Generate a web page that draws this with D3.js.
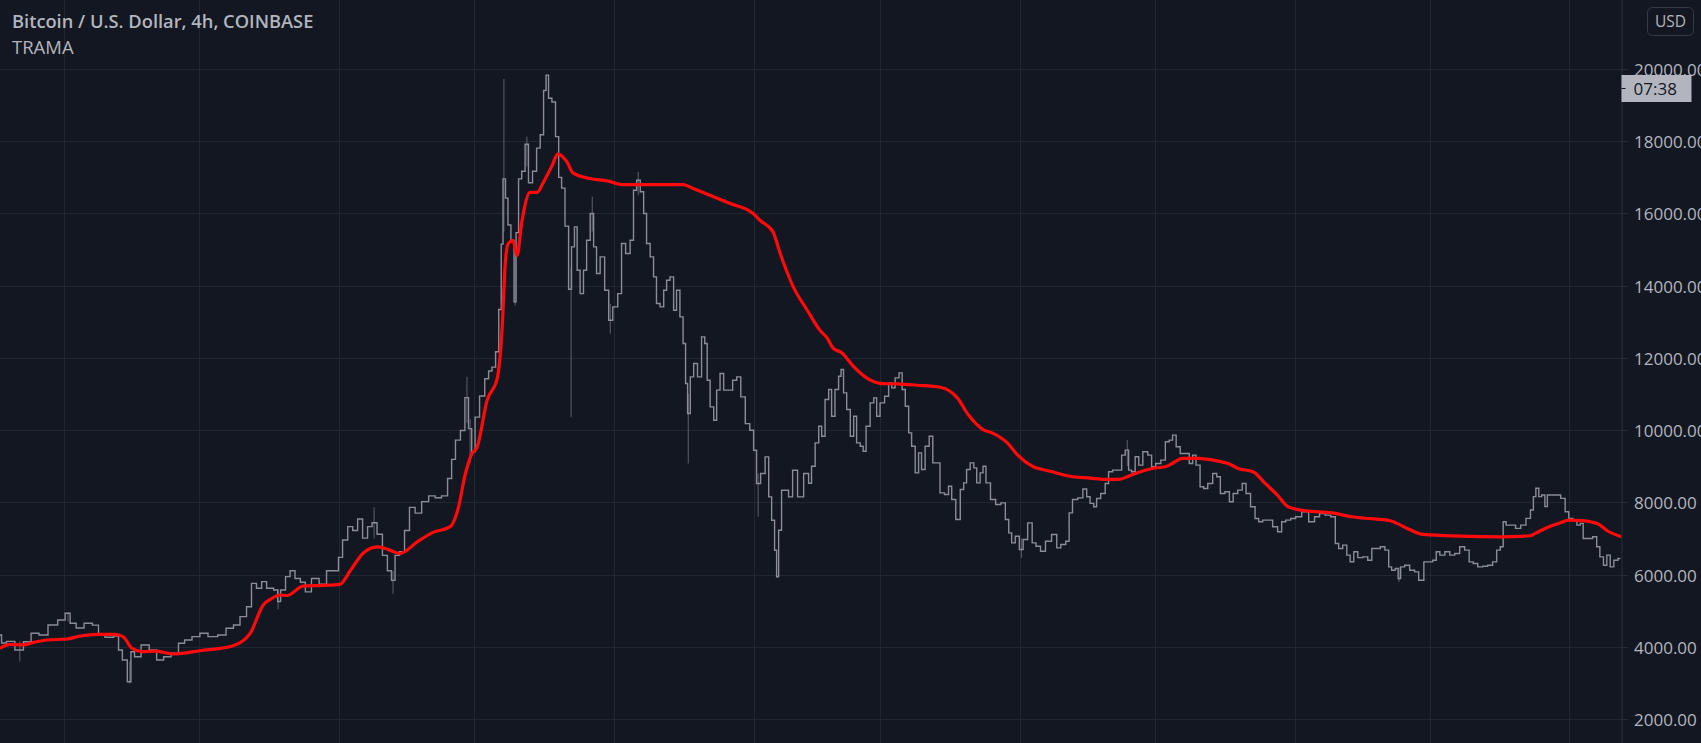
<!DOCTYPE html>
<html lang="en">
<head>
<meta charset="UTF-8">
<title>BTCUSD 4h TRAMA</title>
<script src="https://cdn.jsdelivr.net/npm/d3@7"></script>
<style>
  html, body { margin: 0; padding: 0; background: #131722; }
  svg { display: block; }
  text { font-family: "Open Sans", "Noto Sans", sans-serif; }
</style>
</head>
<body>
<script>
// [days since 2017-08-17 19:00 UTC, close]
const price = [
  [0,4327],[0.7,4105],[2.2,4150],[4.4,3910],[6.0,4140],[7.8,4373],[9.5,4327],[11.8,4603],[13.8,4742],[15.1,4927],
  [16.0,4650],[17.8,4520],[19.5,4650],[21.5,4600],[22.2,4330],[24.4,4263],[26.0,4300],[26.6,3910],[27.7,3635],[28.8,3033],
  [29.3,3864],[30.4,3725],[32.2,4050],[34.0,3910],[35.5,3635],[37.1,3725],[38.8,3820],[40.4,4096],[41.5,4188],[43.7,4280],
  [45.0,4373],[47.3,4280],[49.3,4327],[51.0,4512],[52.6,4603],[53.9,4834],[55.5,5110],[56.1,5757],[57.7,5619],[58.4,5803],
  [59.9,5620],[61.5,5573],[61.7,5253],[62.8,5573],[63.9,5944],[64.8,6104],[66.1,5890],[67.2,5785],[68.3,5520],[69.9,5890],
  [71.7,5730],[73.2,6104],[74.8,6104],[75.4,6476],[76.6,6955],[77.7,7327],[78.8,7220],[79.9,7540],[81.0,7010],[82.1,7327],
  [83.0,7434],[84.3,7115],[85.4,6530],[86.5,6104],[87.2,5840],[88.1,6530],[89.2,6636],[90.3,7220],[91.4,7860],[92.8,7700],
  [94.3,8020],[95.9,8180],[97.2,8126],[98.7,8180],[99.9,8658],[100.5,9190],[101.6,9722],[102.7,9990],[103.6,10900],[104.3,10040],
  [105.0,9400],[105.8,10360],[107.0,10945],[108.1,11424],[108.7,11637],[109.6,11743],[110.3,12170],[111.0,13340],[111.4,15150],[111.8,16957],
  [112.5,16425],[112.9,15680],[113.8,15255],[114.3,13550],[114.7,15470],[115.4,16957],[116.1,17170],[116.9,17915],[117.6,16850],[118.7,17170],
  [119.4,17810],[120.3,18180],[120.9,19404],[121.4,19830],[122.0,19190],[122.9,19085],[123.6,18127],[124.3,17000],[124.9,16700],[125.8,15650],
  [126.5,13900],[127.1,15074],[127.8,15628],[128.3,14428],[129.1,13780],[129.8,14428],[130.5,15258],[131.4,15997],[132.0,15074],[132.7,14336],
  [133.6,14797],[134.7,13874],[135.4,13043],[136.5,13413],[137.6,13780],[138.2,15166],[139.4,14890],[140.2,15258],[140.9,16643],[141.6,16920],
  [142.5,16600],[143.1,15997],[143.8,15166],[144.7,14797],[145.3,14243],[146.0,13505],[146.9,13413],[147.6,13874],[148.2,14150],[149.1,14243],
  [149.8,13320],[150.4,13874],[151.3,13136],[151.8,12397],[152.4,11290],[152.7,10459],[153.6,11473],[154.2,11843],[155.3,11473],[156.0,12582],
  [156.7,12397],[157.1,11382],[158.0,10644],[158.7,10275],[159.3,11106],[160.2,11566],[160.9,11106],[162.0,11106],[163.1,11382],[163.8,11473],
  [164.9,10920],[165.8,10180],[166.9,9997],[167.5,9443],[168.2,8520],[169.3,8797],[170.2,9260],[170.9,8150],[171.5,7505],[172.2,6675],
  [172.4,5940],[173.1,7228],[173.7,8336],[174.6,8336],[175.3,8150],[176.4,8890],[177.5,8150],[179.1,8797],[179.7,8530],[180.4,9000],
  [181.3,9646],[182.0,10108],[182.6,9831],[183.5,10846],[184.2,11123],[184.8,10385],[185.7,11123],[186.4,11492],[186.8,11677],[187.5,11031],
  [188.2,10570],[189.1,9831],[189.7,10385],[190.4,9646],[191.3,9554],[191.7,9415],[192.6,10108],[193.5,10754],[194.2,10892],[194.8,10385],
  [195.7,10754],[196.8,10938],[197.5,11308],[198.2,11169],[199.0,11446],[199.9,11585],[200.4,11123],[201.3,10662],[201.9,9923],[202.6,9554],
  [203.5,8816],[204.1,9369],[204.8,8908],[205.7,9554],[206.6,9831],[207.3,9092],[208.1,9092],[209.0,8262],[210.1,8216],[210.8,8446],
  [211.5,8077],[212.6,7523],[213.5,8354],[214.1,8539],[214.8,8908],[215.7,9092],[216.4,8954],[217.0,8539],[217.9,8816],[218.3,9000],
  [219.2,8539],[220.3,8077],[221.5,7939],[222.6,7985],[223.5,7523],[224.1,7154],[224.8,6877],[225.7,7062],[226.6,6693],[227.4,6970],
  [228.6,7431],[229.4,6877],[230.3,6785],[231.4,6646],[232.5,6923],[234.1,7108],[234.8,6739],[235.9,6831],[237.0,6923],[237.4,7708],
  [238.5,8077],[239.7,8123],[240.8,8370],[241.4,8154],[242.3,7970],[243.0,7877],[243.6,8108],[244.8,8246],[245.6,8523],[246.3,8846],
  [247.4,8892],[248.5,8892],[249.2,9308],[250.1,9446],[250.7,8892],[251.4,8846],[252.3,9262],[253.0,9031],[254.1,9400],[255.2,9308],
  [255.8,8985],[257.0,9077],[258.1,9169],[259.0,9677],[259.8,9723],[260.5,9862],[261.4,9538],[262.3,9354],[263.4,9354],[264.3,9077],
  [264.9,9308],[265.8,9031],[266.7,8431],[267.4,8385],[268.5,8523],[269.6,8800],[270.3,8708],[271.2,8246],[272.3,8292],[273.2,8015],
  [274.0,8246],[275.2,8338],[276.0,8523],[276.9,8246],[278.0,7877],[278.9,7554],[279.6,7462],[280.7,7508],[281.8,7508],[282.9,7323],
  [284.0,7185],[284.7,7462],[285.8,7508],[286.9,7554],[288.0,7600],[289.6,7738],[291.1,7462],[292.2,7600],[293.3,7692],[294.7,7646],
  [295.8,7600],[296.7,6862],[297.3,6723],[298.5,6815],[299.1,6538],[300.0,6354],[300.7,6631],[301.8,6470],[302.9,6491],[304.0,6398],
  [304.7,6722],[305.8,6722],[306.7,6768],[307.8,6676],[308.4,6213],[309.1,6120],[310.0,6166],[310.4,5889],[311.1,6213],[312.2,6259],
  [313.3,6120],[314.4,6074],[315.1,5843],[315.8,5843],[316.0,6352],[317.3,6352],[318.4,6398],[318.9,6630],[320.0,6537],[321.1,6630],
  [322.2,6537],[323.3,6583],[324.4,6768],[325.5,6676],[326.4,6352],[327.3,6305],[328.4,6213],[329.5,6231],[330.6,6259],[331.7,6352],
  [332.4,6676],[333.3,6768],[333.7,7463],[334.6,7370],[335.7,7370],[336.8,7278],[338.0,7370],[339.1,7555],[340.0,7787],[340.4,8157],
  [341.1,8389],[341.7,8157],[342.4,8204],[343.1,7880],[343.5,8204],[344.6,8204],[345.7,8204],[346.8,8111],[347.7,7741],[348.4,7555],
  [349.5,7509],[350.2,7370],[351.0,7416],[351.5,7000],[352.8,7000],[353.9,7046],[354.6,6768],[355.3,6491],[356.2,6259],[356.8,6537],
  [357.7,6213],[358.4,6398],[359.5,6444]
];

// [day, low, high] for the long wicks
const wicks = [
  [4.4,3590,4150],[15.1,4700,4960],[28.8,2980,3600],[61.7,5040,5600],[83.0,7000,7860],[87.2,5466,6100],
  [103.6,10200,11480],[104.3,9083,10300],[111.8,15500,19723],[114.3,13450,15000],[116.9,17300,18130],
  [126.7,10366,14500],[131.4,15500,16460],[135.4,12674,13500],[141.6,16500,17150],[152.7,9075,11000],
  [168.2,7600,8800],[226.6,6462,7000],[250.1,9000,9723],[310.4,5800,6200]
];

// [day, TRAMA]
const trama = [
  [0,3958],[2.2,4068],[5.1,4050],[7.3,4115],[10.4,4188],[14.9,4215],[17.8,4298],[21.7,4345],[25.5,4345],[27.3,4280],
  [29.3,3958],[31.5,3864],[34.4,3880],[38.4,3800],[44.4,3890],[51.7,4030],[55.5,4373],[58.4,5158],[59.9,5306],[62.1,5434],
  [63.7,5420],[67.2,5678],[71.7,5700],[75.4,5730],[77.7,6104],[80.5,6583],[83.7,6764],[85.0,6743],[88.8,6583],[92.5,6900],
  [96.1,7168],[99.9,7327],[101.6,7806],[103.2,8764],[104.7,9350],[105.8,9510],[108.1,10840],[110.3,11424],[111.4,12807],[112.1,14616],
  [112.7,15150],[113.8,15255],[114.7,14830],[115.8,15787],[117.6,16584],[119.2,16584],[120.5,16850],[122.5,17330],[123.8,17650],[124.9,17560],
  [125.8,17430],[127.1,17123],[130.9,16966],[134.7,16900],[138.0,16800],[142.0,16800],[151.6,16800],[153.8,16690],[157.5,16505],[162.0,16274],
  [167.1,15997],[168.6,15812],[171.5,15490],[173.1,14890],[176.0,13966],[179.1,13320],[182.0,12750],[183.5,12554],[184.8,12277],[186.8,12138],
  [189.3,11769],[192.6,11418],[195.7,11289],[199.0,11280],[203.5,11243],[208.6,11188],[212.4,10892],[214.8,10431],[218.1,10015],[220.1,9923],
  [223.5,9646],[225.7,9323],[229.0,9000],[233.0,8862],[237.4,8723],[241.9,8670],[245.2,8634],[248.1,8634],[250.1,8708],[251.9,8800],
  [255.6,8938],[258.5,8985],[260.7,9123],[262.3,9215],[265.8,9215],[270.3,9141],[272.5,9077],[274.7,8938],[278.0,8846],[280.7,8523],
  [283.4,8200],[285.8,7877],[289.6,7766],[295.6,7708],[300.0,7600],[302.9,7560],[308.4,7491],[312.2,7278],[315.8,7111],[324.0,7065],
  [332.9,7046],[339.5,7074],[340.6,7139],[343.3,7305],[346.2,7435],[348.0,7509],[351.0,7491],[354.6,7398],[356.6,7213],[359.7,7046]
];

const priceTicks = [2000, 4000, 6000, 8000, 10000, 12000, 14000, 16000, 18000, 20000];
const title = "Bitcoin / U.S. Dollar, 4h, COINBASE";
const study = "TRAMA";
const currency = "USD";
const countdown = "07:38";

const width = 1701;
const height = 743;
const plotRight = 1621.5;

const DAY = 864e5;
const t0 = Date.UTC(2017, 7, 17, 19);
const toDate = (d) => new Date(t0 + d * DAY);

const x = d3.scaleUtc()
  .domain([toDate(0), toDate(359.75)])
  .range([0, plotRight]);

const y = d3.scaleLinear()
  .domain([2000, 20000])
  .range([719, 69]);

const svg = d3.select("body").append("svg")
  .attr("width", width)
  .attr("height", height);

svg.append("rect")
  .attr("width", width)
  .attr("height", height)
  .attr("fill", "#131722");

// grid
const grid = svg.append("g");
grid.selectAll(".vgrid")
  .data(d3.utcMonth.range(x.domain()[0], x.domain()[1]))
  .join("line")
  .attr("x1", (d) => Math.round(x(d)) + 0.5)
  .attr("x2", (d) => Math.round(x(d)) + 0.5)
  .attr("y1", 0)
  .attr("y2", height)
  .attr("stroke", "#222631");

grid.selectAll(".hgrid")
  .data(priceTicks)
  .join("line")
  .attr("x1", 0)
  .attr("x2", plotRight)
  .attr("y1", (d) => Math.round(y(d)) + 0.5)
  .attr("y2", (d) => Math.round(y(d)) + 0.5)
  .attr("stroke", "#222631");

// wicks
svg.append("g")
  .selectAll("line")
  .data(wicks)
  .join("line")
  .attr("x1", (d) => x(toDate(d[0])))
  .attr("x2", (d) => x(toDate(d[0])))
  .attr("y1", (d) => y(d[1]))
  .attr("y2", (d) => y(d[2]))
  .attr("stroke", "#5d606b")
  .attr("stroke-width", 1);

// price, drawn as a staircase like stacked 4h bars
svg.append("path")
  .datum(price)
  .attr("fill", "none")
  .attr("stroke", "#8a8d97")
  .attr("stroke-width", 1.4)
  .attr("d", d3.line()
    .x((d) => x(toDate(d[0])))
    .y((d) => y(d[1]))
    .curve(d3.curveStep));

// TRAMA
svg.append("path")
  .datum(trama)
  .attr("fill", "none")
  .attr("stroke", "#ff0a0a")
  .attr("stroke-width", 3.2)
  .attr("stroke-linejoin", "round")
  .attr("d", d3.line()
    .x((d) => x(toDate(d[0])))
    .y((d) => y(d[1]))
    .curve(d3.curveMonotoneX));

// price scale
const axis = svg.append("g");
axis.append("rect")
  .attr("x", plotRight)
  .attr("y", 0)
  .attr("width", width - plotRight)
  .attr("height", height)
  .attr("fill", "#131722");

axis.append("line")
  .attr("x1", plotRight + 0.5)
  .attr("x2", plotRight + 0.5)
  .attr("y1", 0)
  .attr("y2", height)
  .attr("stroke", "#2a2e39");

const ticks = axis.selectAll(".tick")
  .data(priceTicks)
  .join("g")
  .attr("transform", (d) => `translate(${plotRight},${Math.round(y(d)) + 0.5})`);

ticks.append("line")
  .attr("x2", 6)
  .attr("stroke", "#2a2e39");

ticks.append("text")
  .attr("x", 12.5)
  .attr("dy", "0.36em")
  .attr("fill", "#b2b5be")
  .attr("font-size", 17)
  .text((d) => d3.format(".2f")(d));

// countdown label
const cd = axis.append("g").attr("transform", `translate(${plotRight},75)`);
cd.append("rect")
  .attr("width", 70)
  .attr("height", 27)
  .attr("fill", "#b2b5be");
cd.append("line")
  .attr("x1", 0).attr("x2", 4)
  .attr("y1", 13.5).attr("y2", 13.5)
  .attr("stroke", "#131722");
cd.append("text")
  .attr("x", 12)
  .attr("y", 13.5)
  .attr("dy", "0.36em")
  .attr("fill", "#131722")
  .attr("font-size", 17)
  .text(countdown);

// currency button
axis.append("rect")
  .attr("x", 1647.5)
  .attr("y", 7.5)
  .attr("width", 46)
  .attr("height", 28)
  .attr("rx", 5)
  .attr("fill", "none")
  .attr("stroke", "#363a45");
axis.append("text")
  .attr("x", 1670.5)
  .attr("y", 21.5)
  .attr("dy", "0.36em")
  .attr("text-anchor", "middle")
  .attr("fill", "#b2b5be")
  .attr("font-size", 15.5)
  .text(currency);

// legend
svg.append("text")
  .attr("x", 12)
  .attr("y", 28)
  .attr("fill", "#b2b5be")
  .attr("font-size", 18.3)
  .attr("font-weight", 600)
  .text(title);

svg.append("text")
  .attr("x", 12)
  .attr("y", 54)
  .attr("fill", "#b2b5be")
  .attr("font-size", 18.5)
  .text(study);
</script>
</body>
</html>
